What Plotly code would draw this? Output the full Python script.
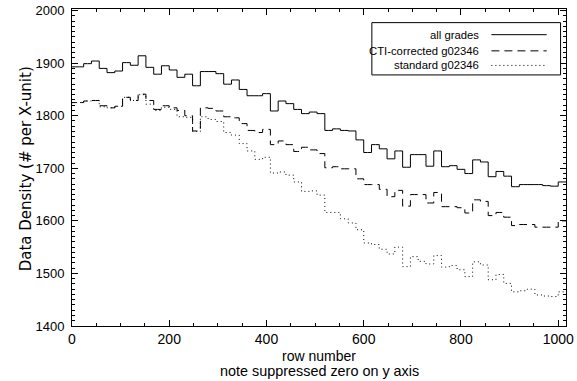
import numpy as np
import plotly.graph_objects as go

# Row bins: 16 rows per bin, labelled by the first row of the bin
row = np.arange(0, 1024, 16)

all_grades = [
    1893, 1893, 1899, 1904, 1890, 1882, 1885, 1901, 1896, 1914, 1892, 1879, 1895, 1887, 1873, 1879,
    1857, 1884, 1884, 1880, 1860, 1868, 1850, 1838, 1838, 1842, 1809, 1828, 1823, 1812, 1804, 1807,
    1804, 1772, 1775, 1772, 1771, 1754, 1730, 1745, 1737, 1718, 1733, 1702, 1726, 1726, 1704, 1733,
    1703, 1705, 1698, 1690, 1716, 1712, 1684, 1694, 1685, 1665, 1669, 1669, 1669, 1667, 1666, 1674,
]
cti_corrected = [
    1825, 1825, 1828, 1829, 1819, 1815, 1818, 1835, 1829, 1841, 1829, 1812, 1819, 1815, 1810, 1800,
    1771, 1815, 1814, 1809, 1798, 1796, 1785, 1772, 1768, 1774, 1745, 1752, 1745, 1732, 1740, 1735,
    1728, 1701, 1703, 1699, 1699, 1680, 1669, 1669, 1660, 1646, 1658, 1628, 1650, 1650, 1634, 1654,
    1627, 1627, 1625, 1615, 1640, 1637, 1610, 1616, 1607, 1591, 1593, 1593, 1588, 1588, 1588, 1600,
]
standard = [
    1825, 1825, 1828, 1829, 1817, 1815, 1818, 1835, 1829, 1840, 1822, 1810, 1816, 1812, 1798, 1797,
    1770, 1798, 1793, 1789, 1768, 1763, 1747, 1733, 1717, 1721, 1691, 1693, 1687, 1674, 1656, 1657,
    1649, 1616, 1616, 1604, 1596, 1583, 1558, 1555, 1546, 1537, 1550, 1513, 1532, 1523, 1518, 1534,
    1512, 1515, 1507, 1494, 1522, 1516, 1488, 1498, 1481, 1465, 1467, 1470, 1459, 1457, 1456, 1465,
]

series = [
    ("all grades", all_grades, "solid"),
    ("CTI-corrected g02346", cti_corrected, "8px,5px"),
    ("standard g02346", standard, "1px,3px"),
]

BIN = 16
FONT = "Liberation Sans, Arial, sans-serif"
WIDE_FONT = "DejaVu Sans, sans-serif"


def histogram_path(x, y):
    """Histogram-style steps centred on each x, half a bin wide on both sides."""
    x = np.asarray(x, dtype=float)
    y = np.asarray(y, dtype=float)
    xs = np.concatenate([[x[0] - BIN / 2], x, [x[-1] + BIN / 2]])
    ys = np.concatenate([[y[0]], y, [y[-1]]])
    return xs, ys


fig = go.Figure()
for name, values, dash in series:
    xs, ys = histogram_path(row, values)
    fig.add_trace(go.Scatter(
        x=xs, y=ys, mode="lines", name=name,
        line=dict(color="black", width=1, dash=dash, shape="hvh"),
        showlegend=False, hoverinfo="skip",
    ))

axis_common = dict(
    showline=True, linecolor="black", linewidth=1, mirror="allticks",
    ticks="inside", tickcolor="black", tickwidth=1,
    showgrid=False, zeroline=False, ticklabeloverflow="allow",
)

fig.update_xaxes(
    range=[0, 1016], tickvals=[0, 200, 400, 600, 800, 1000], ticklen=6,
    tickfont=dict(family=FONT, size=14, color="black"),
    minor=dict(dtick=50, tick0=0, ticks="inside", ticklen=3, tickcolor="black", showgrid=False),
    **axis_common,
)
fig.update_yaxes(
    range=[1400, 2003], tickvals=[1400, 1500, 1600, 1700, 1800, 1900, 2000], ticklen=6,
    tickfont=dict(family=FONT, size=13, color="black"), ticklabelstandoff=4,
    minor=dict(dtick=10, tick0=1400, ticks="inside", ticklen=3, tickcolor="black", showgrid=False),
    **axis_common,
)

# Axis titles
fig.add_annotation(text="Data Density (# per X-unit)", xref="paper", yref="paper",
                   x=-0.094, y=0.496, textangle=-90, showarrow=False,
                   xanchor="center", yanchor="middle",
                   font=dict(family=WIDE_FONT, size=15, color="black"))
fig.add_annotation(text="row number", xref="paper", yref="paper", x=0.5, y=-0.095,
                   showarrow=False, xanchor="center", yanchor="middle",
                   font=dict(family=FONT, size=14, color="black"))
fig.add_annotation(text="note suppressed zero on y axis", xref="paper", yref="paper", x=0.5, y=-0.143,
                   showarrow=False, xanchor="center", yanchor="middle",
                   font=dict(family=FONT, size=14.4, color="black"))

# Legend box drawn in paper coordinates
box_x0, box_x1 = 0.607, 0.989
box_y0, box_y1 = 0.792, 0.957
fig.add_shape(type="rect", xref="paper", yref="paper", x0=box_x0, x1=box_x1, y0=box_y0, y1=box_y1,
              line=dict(color="black", width=1), fillcolor="white", layer="above")
row_y = [0.919, 0.868, 0.822]
for (name, _, dash), yy in zip(series, row_y):
    fig.add_annotation(text=name, xref="paper", yref="paper", x=0.828, y=yy,
                       showarrow=False, xanchor="right", yanchor="middle",
                       font=dict(family=FONT, size=11.3, color="black"))
    fig.add_shape(type="line", xref="paper", yref="paper", x0=0.849, x1=0.961, y0=yy, y1=yy,
                  line=dict(color="black", width=1, dash=dash), layer="above")

fig.update_layout(
    width=577, height=381,
    margin=dict(l=72, r=3.5, t=9.3, b=55),
    paper_bgcolor="white", plot_bgcolor="white",
    font=dict(family=FONT, color="black"),
)

fig.write_html("out.html")
